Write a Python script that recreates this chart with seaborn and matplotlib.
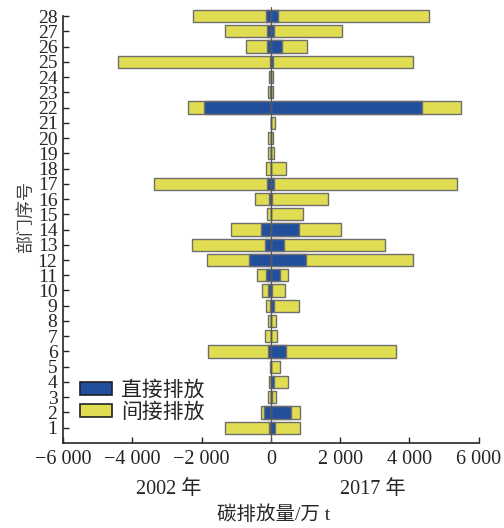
import numpy as np
import pandas as pd
import seaborn as sns
import matplotlib.pyplot as plt
from matplotlib.patches import Patch
from matplotlib.ticker import FuncFormatter
import matplotlib.transforms as mtransforms

sns.set_style('ticks')
plt.rcParams['font.family'] = ['Liberation Serif', 'Noto Sans CJK SC']
plt.rcParams['axes.unicode_minus'] = True

# sector numbers 1..28
sector = list(range(1, 29))

# 2002 emissions (万 t)
direct_2002 = [65, 200, 10, 0, 0, 95, 0, 0, 40, 85, 155, 635, 165, 280,
               0, 60, 120, 0, 0, 0, 0, 1930, 30, 0, 40, 105, 120, 150]
indirect_2002 = [1270, 95, 75, 60, 40, 1720, 180, 80, 95, 165, 260, 1220, 2105, 865,
                 105, 410, 3245, 135, 80, 75, 0, 465, 50, 60, 4365, 625, 1215, 2100]

# 2017 emissions (万 t)
direct_2017 = [125, 585, 30, 85, 0, 440, 0, 0, 85, 40, 250, 1000, 385, 810,
               0, 40, 85, 0, 0, 0, 0, 4365, 5, 0, 50, 325, 90, 210]
indirect_2017 = [720, 260, 120, 395, 260, 3160, 180, 135, 715, 355, 230, 3105, 2895, 1200,
                 940, 1615, 5290, 425, 95, 60, 120, 1135, 60, 65, 4055, 720, 1970, 4350]

yellow = '#e1dd52'
blue = '#214f9c'
edge = '#6e6e6e'

df = pd.DataFrame({
    'sector': sector,
    'tot02': -(np.array(direct_2002) + np.array(indirect_2002)),
    'dir02': -np.array(direct_2002),
    'tot17': np.array(direct_2017) + np.array(indirect_2017),
    'dir17': np.array(direct_2017),
})

fig = plt.figure(figsize=(5.04, 5.28), dpi=100)
ax = fig.add_axes([0.125, 0.161, 0.825, 0.826])

# yellow = total (direct + indirect), blue = direct drawn over it
for col, c in [('tot02', yellow), ('tot17', yellow), ('dir02', blue), ('dir17', blue)]:
    sns.barplot(data=df, x=col, y='sector', orient='h', native_scale=True,
                color=c, saturation=1, width=0.8, edgecolor=edge, linewidth=1.0,
                errorbar=None, ax=ax)

ax.axvline(0, color='#555555', lw=0.8, zorder=5)

ax.set_xlim(-6000, 6000)
ax.set_ylim(0, 28.6)
ax.set_xticks(range(-6000, 6001, 2000))
ax.set_yticks(sector)
ax.xaxis.set_major_formatter(FuncFormatter(
    lambda v, p: ('\u2212' if v < 0 else '') + f'{abs(v):,.0f}'.replace(',', ' ')))
ax.tick_params(axis='x', direction='in', length=4, width=1, labelsize=14.5, pad=5)
ax.tick_params(axis='y', direction='in', length=4, width=1, labelsize=14, pad=4)
sns.despine(ax=ax)
ax.spines['left'].set_bounds(0, 28)
ax.spines['left'].set_linewidth(1.2)
ax.spines['bottom'].set_linewidth(1.2)
ax.set_xlabel('')
ax.set_ylabel('')

trans = mtransforms.blended_transform_factory(ax.transData, ax.transAxes)
ax.text(-2950, -0.106, '2002 年', transform=trans, ha='center', va='center', fontsize=14.5)
ax.text(2950, -0.106, '2017 年', transform=trans, ha='center', va='center', fontsize=14.5)
fig.text(0.542, 0.025, '碳排放量/万 t', ha='center', va='center', fontsize=14)
fig.text(0.052, 0.589, '部门序号', ha='center', va='center', rotation=90, fontsize=13,
         color='#444444')

handles = [Patch(facecolor=blue, edgecolor='#222222', lw=1.2, label='直接排放'),
           Patch(facecolor=yellow, edgecolor='#222222', lw=1.2, label='间接排放')]
ax.legend(handles=handles, loc='lower left', bbox_to_anchor=(0.041, 0.046),
          frameon=False, fontsize=15, borderpad=0, borderaxespad=0,
          handlelength=1.55, handleheight=0.58, handletextpad=0.4, labelspacing=0.1)

fig.savefig('out.png', dpi=100)
